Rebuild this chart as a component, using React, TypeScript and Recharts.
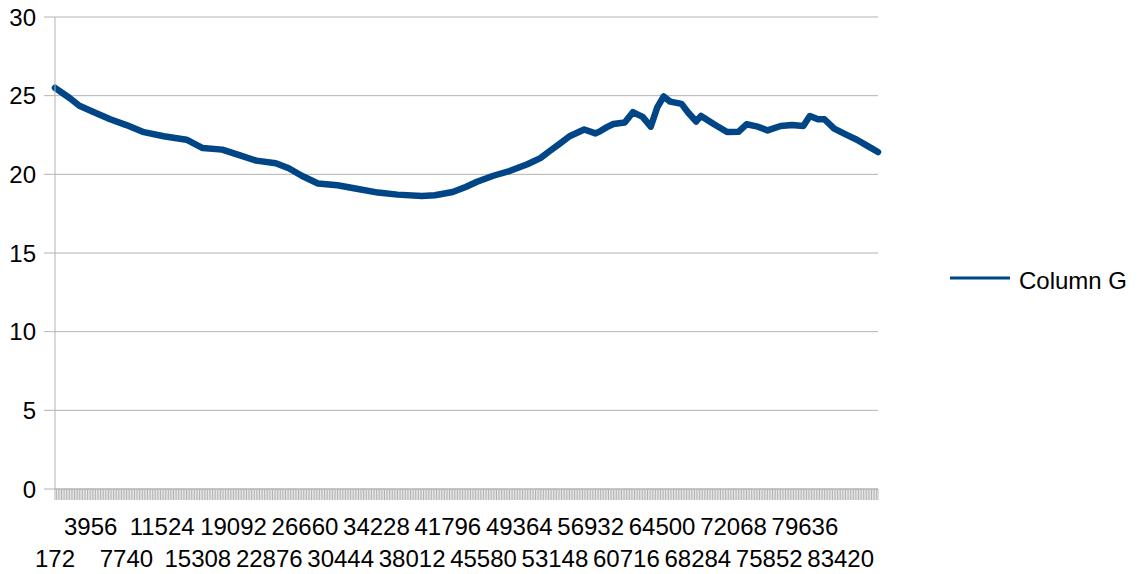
import { LineChart, Line, XAxis, YAxis, CartesianGrid } from "recharts"

// x column: row ids 172, 344, ... (508 rows)
const categories = Array.from({ length: 508 }, (_, i) => 172 * (i + 1))

// readings of Column G at selected rows
const sampleX = [
  172, 1720, 2752, 4128, 6020, 7740, 9460, 11696, 14104, 15824,
  17888, 19780, 21500, 23564, 24940, 26316, 28036, 30100, 31992, 34400,
  36464, 39044, 40420, 42312, 43688, 44892, 46612, 48332, 50224, 51600,
  52632, 53664, 54696, 56244, 57448, 57964, 58652, 59340, 60544, 61404,
  62436, 63296, 63984, 64672, 65360, 66564, 67252, 68112, 68628, 70004,
  71380, 72584, 73444, 74648, 75680, 77056, 78260, 79464, 80152, 81012,
  81700, 82732, 84108, 85140, 86344, 87376,
]
const sampleG = [
  25.5, 24.85, 24.36, 23.99, 23.5, 23.13, 22.7, 22.42, 22.2, 21.67,
  21.57, 21.2, 20.87, 20.71, 20.39, 19.91, 19.42, 19.31, 19.1, 18.84,
  18.71, 18.63, 18.67, 18.88, 19.2, 19.53, 19.91, 20.21, 20.64, 21.03,
  21.5, 21.95, 22.42, 22.85, 22.6, 22.75, 23.0, 23.2, 23.29, 23.95,
  23.65, 23.03, 24.25, 24.95, 24.62, 24.48, 23.93, 23.36, 23.71, 23.18,
  22.69, 22.7, 23.18, 23.03, 22.79, 23.07, 23.13, 23.07, 23.71, 23.5,
  23.5, 22.9, 22.49, 22.2, 21.78, 21.42,
]

const yTicks = [0, 5, 10, 15, 20, 25, 30]
const seriesName = "Column G"

const lookup = new Map(sampleX.map((x, i) => [x, sampleG[i]]))
const data = categories.map(x => ({ x, g: lookup.has(x) ? lookup.get(x) : null }))

const FONT = "'Liberation Sans', Arial, sans-serif"
const GRID = "#b3b3b3"
const BLUE = "#004586"

// every 22nd row gets a label, staggered on two rows
const XTick = (props: any) => {
  const { x, payload, index } = props
  if (index % 22 !== 0 || index > 490) return null
  const upper = (index / 22) % 2 === 1
  return (
    <text
      x={x}
      y={upper ? 535 : 567}
      textAnchor="middle"
      fontFamily={FONT}
      fontSize={24}
      fill="#000"
    >
      {payload.value}
    </text>
  )
}

export default function App() {
  return (
    <div style={{ position: "fixed", left: 0, top: 0, width: 1141, height: 574, background: "#fff" }}>
      <LineChart
        width={1141}
        height={574}
        data={data}
        margin={{ top: 17, right: 263, bottom: 0, left: 0 }}
      >
        <CartesianGrid vertical={false} stroke={GRID} />
        <XAxis
          dataKey="x"
          interval={0}
          tick={<XTick />}
          tickSize={11}
          tickLine={{ stroke: GRID }}
          axisLine={{ stroke: GRID }}
          height={85}
        />
        <YAxis
          domain={[0, 30]}
          ticks={yTicks}
          width={55}
          tickSize={11}
          tickMargin={8}
          tickLine={{ stroke: GRID }}
          axisLine={{ stroke: GRID }}
          tick={{ fontSize: 24, fontFamily: FONT, fill: "#000" }}
        />
        <YAxis
          yAxisId="r"
          orientation="right"
          width={0}
          tick={false}
          tickLine={false}
          axisLine={{ stroke: GRID }}
          domain={[0, 30]}
        />
        <Line
          type="linear"
          dataKey="g"
          name={seriesName}
          stroke={BLUE}
          strokeWidth={6.5}
          strokeLinecap="round"
          strokeLinejoin="round"
          dot={false}
          connectNulls
          isAnimationActive={false}
        />
      </LineChart>
      <svg width={191} height={30} style={{ position: "absolute", left: 950, top: 265 }}>
        <line x1={0} y1={13} x2={60} y2={13} stroke={BLUE} strokeWidth={3} />
        <text x={69} y={24} fontSize={24} fontFamily={FONT} fill="#000">
          {seriesName}
        </text>
      </svg>
    </div>
  )
}
